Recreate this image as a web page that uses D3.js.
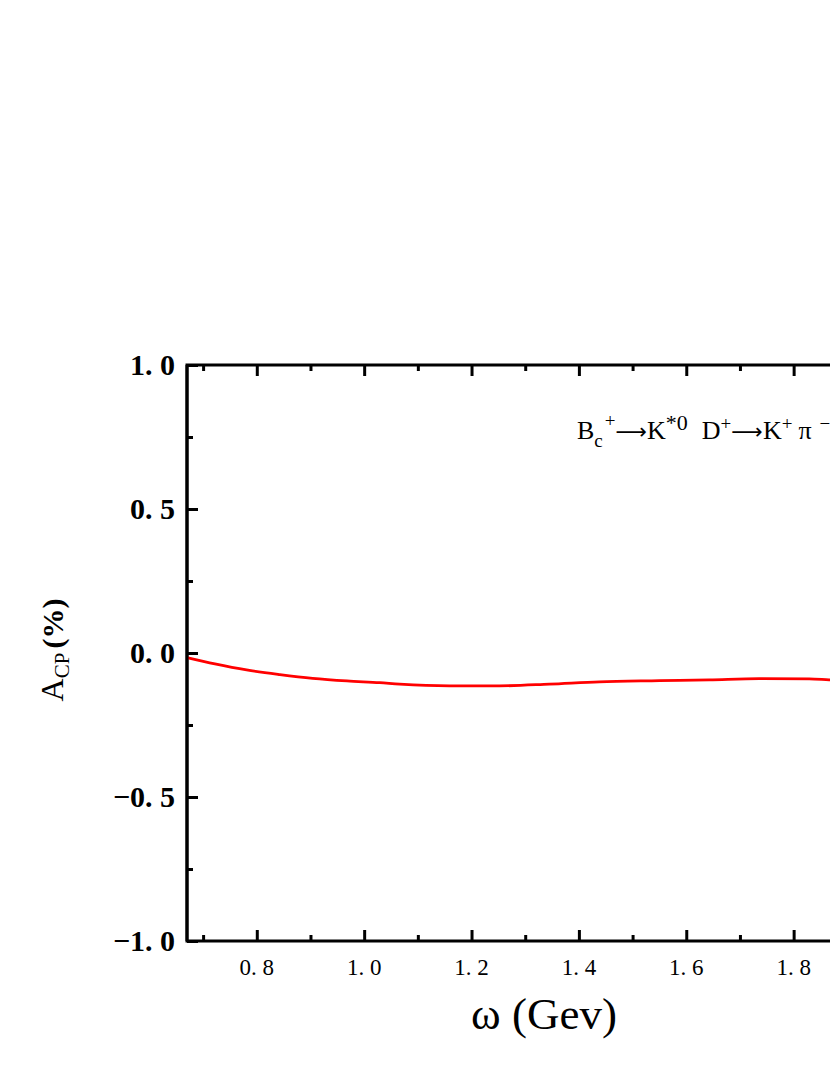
<!DOCTYPE html>
<html>
<head>
<meta charset="utf-8">
<script src="https://cdn.jsdelivr.net/npm/d3@7"></script>
<style>
  html, body { margin: 0; padding: 0; background: #fff; }
  svg { display: block; }
  text { font-family: "Liberation Serif", "DejaVu Serif", serif; fill: #000; }
</style>
</head>
<body>
<div id="chart"></div>
<script>
// ---- data ----
const omega = [0.670, 0.722, 0.781, 0.843, 0.904, 0.968, 1.029, 1.066, 1.159, 1.252, 1.345, 1.438, 1.550, 1.643, 1.736, 1.829, 1.866, 1.930, 2.000];
const acp   = [-0.016, -0.038, -0.059, -0.075, -0.088, -0.097, -0.103, -0.108, -0.114, -0.114, -0.108, -0.100, -0.096, -0.093, -0.089, -0.090, -0.093, -0.097, -0.102];
const xTicks = [0.8, 1.0, 1.2, 1.4, 1.6, 1.8, 2.0];
const xTickLabels = ["0. 8", "1. 0", "1. 2", "1. 4", "1. 6", "1. 8"];
const xMinorTicks = [0.7, 0.9, 1.1, 1.3, 1.5, 1.7, 1.9];
const yTicks = [-1.0, -0.5, 0.0, 0.5, 1.0];
const yTickLabels = ["\u22121. 0", "\u22120. 5", "0. 0", "0. 5", "1. 0"];
const yMinorTicks = [-0.75, -0.25, 0.25, 0.75];
const xDomain = [0.67, 2.0];
const yDomain = [-1.0, 1.0];

(function () {
// ---- layout ----
const W = 830, H = 1075;
const L = 187, R = 901, T = 365, B = 941;

const svg = d3.select("#chart").append("svg").attr("width", W).attr("height", H);

const x = d3.scaleLinear().domain(xDomain).range([L, R]);
const y = d3.scaleLinear().domain(yDomain).range([B, T]);

// frame
svg.append("rect").attr("x", L).attr("y", T).attr("width", R - L).attr("height", B - T)
  .attr("fill", "none").attr("stroke", "#000").attr("stroke-width", 3);

const styleAxis = g => { g.select(".domain").remove(); g.selectAll("line").attr("stroke-width", 3); };

// bottom axis (ticks inward)
const gBottom = svg.append("g").attr("transform", `translate(0,${B})`);
gBottom.call(d3.axisBottom(x).tickValues(xTicks).tickSizeInner(-11).tickSizeOuter(0).tickFormat("")).call(styleAxis);
gBottom.append("g").call(d3.axisBottom(x).tickValues(xMinorTicks).tickSizeInner(-6).tickSizeOuter(0).tickFormat("")).call(styleAxis);
gBottom.selectAll(".xlab").data(xTickLabels).enter().append("text")
  .attr("class", "xlab")
  .attr("x", (d, i) => x(xTicks[i])).attr("y", 34)
  .attr("text-anchor", "middle")
  .style("font-size", "23px")
  .text(d => d);

// top axis (ticks inward)
const gTop = svg.append("g").attr("transform", `translate(0,${T})`);
gTop.call(d3.axisTop(x).tickValues(xTicks).tickSizeInner(-11).tickSizeOuter(0).tickFormat("")).call(styleAxis);
gTop.append("g").call(d3.axisTop(x).tickValues(xMinorTicks).tickSizeInner(-6).tickSizeOuter(0).tickFormat("")).call(styleAxis);

// left axis (ticks inward)
const gLeft = svg.append("g").attr("transform", `translate(${L},0)`);
gLeft.call(d3.axisLeft(y).tickValues(yTicks).tickSizeInner(-11).tickSizeOuter(0).tickFormat("")).call(styleAxis);
gLeft.append("g").call(d3.axisLeft(y).tickValues(yMinorTicks).tickSizeInner(-6).tickSizeOuter(0).tickFormat("")).call(styleAxis);
gLeft.selectAll(".ylab").data(yTickLabels).enter().append("text")
  .attr("class", "ylab")
  .attr("x", -12).attr("y", (d, i) => y(yTicks[i]) + 10)
  .attr("text-anchor", "end")
  .style("font-size", "30px")
  .style("font-weight", "bold")
  .text(d => d);

// curve
const line = d3.line().x((d, i) => x(omega[i])).y(d => y(d)).curve(d3.curveMonotoneX);
svg.append("path").datum(acp).attr("d", line)
  .attr("fill", "none").attr("stroke", "#ff0000").attr("stroke-width", 2.8);

// redraw left frame edge over curve start
svg.append("line").attr("x1", L).attr("x2", L).attr("y1", T).attr("y2", B)
  .attr("stroke", "#000").attr("stroke-width", 3);

// annotation
const ann = svg.append("text").attr("x", 577).attr("y", 439).style("font-size", "26px");
ann.append("tspan").text("B");
ann.append("tspan").attr("dy", 8).style("font-size", "19px").text("c");
ann.append("tspan").attr("dy", -20).attr("dx", 2).style("font-size", "19px").text("+");
ann.append("tspan").attr("dy", 12).style("font-family", "DejaVu Sans").style("font-size", "22px").text("\u27F6");
ann.append("tspan").text("K");
ann.append("tspan").attr("dy", -9).style("font-size", "22px").text("*0");
ann.append("tspan").attr("dy", 9).attr("dx", 14).text("D");
ann.append("tspan").attr("dy", -9).style("font-size", "19px").text("+");
ann.append("tspan").attr("dy", 9).style("font-family", "DejaVu Sans").style("font-size", "22px").text("\u27F6");
ann.append("tspan").text("K");
ann.append("tspan").attr("dy", -9).style("font-size", "19px").text("+");
ann.append("tspan").attr("dy", 9).attr("dx", 6).text("\u03C0");
ann.append("tspan").attr("dy", -9).attr("dx", 8).style("font-size", "19px").text("\u2212");

// x title
svg.append("text").attr("x", 544).attr("y", 1029).attr("text-anchor", "middle")
  .style("font-size", "45px").text("\u03C9 (Gev)");

// y title
const yt = svg.append("text").attr("transform", `translate(63,${650}) rotate(-90)`)
  .attr("text-anchor", "middle").style("font-size", "32px");
yt.append("tspan").text("A");
yt.append("tspan").attr("dy", 6).style("font-size", "21px").text("CP");
yt.append("tspan").attr("dy", -6).attr("dx", 4).style("font-weight", "bold").style("font-size", "30px").text("(%)");
})();
</script>
</body>
</html>
